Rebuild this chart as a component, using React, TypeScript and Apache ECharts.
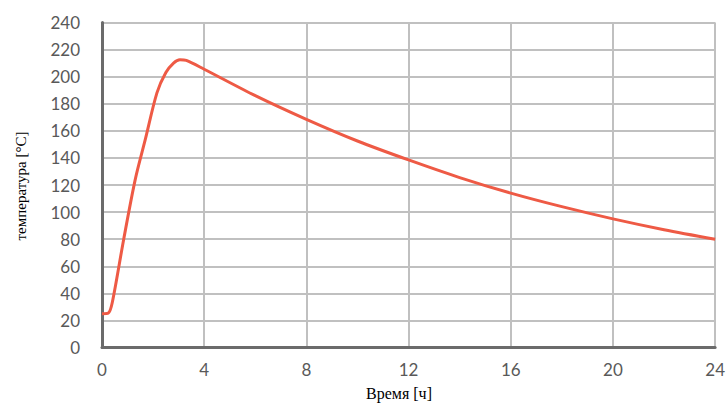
import React, { useEffect, useRef } from "react";
import * as echarts from "echarts";

const timeHours: number[] = [0, 0.25, 0.4, 0.85, 1.3, 1.7, 2.15, 2.5, 2.8, 3.05, 3.3, 4, 6, 8, 10, 12, 14, 16, 18, 20, 22, 24];
const temperature: number[] = [25, 25.5, 33, 80, 124, 154, 188, 203, 210, 212.5, 212, 205.5, 186, 168.5, 152.5, 138.5, 125.5, 114, 104, 95, 87, 80];

const xTitle = "Время [ч]";
const yTitle = "температура [°C]";

export default function App() {
  const ref = useRef<HTMLDivElement>(null);
  useEffect(() => {
    if (!ref.current) return;
    const chart = echarts.init(ref.current, undefined, { renderer: "svg" });
    const data = timeHours.map((t, i) => [t, temperature[i]]);
    chart.setOption({
      animation: false,
      grid: { left: 102, right: 10.5, top: 22.5, bottom: 55.5, containLabel: false },
      xAxis: {
        type: "value",
        min: 0,
        max: 24,
        interval: 4,
        axisLine: { show: true, onZero: false, lineStyle: { color: "#6b6b6b", width: 3 } },
        axisTick: { show: false },
        axisLabel: { color: "#595959", fontFamily: "Lato", fontSize: 17, margin: 13 },
        splitLine: { show: true, lineStyle: { color: "#c0c0c0", width: 2 } },
      },
      yAxis: {
        type: "value",
        min: 0,
        max: 240,
        interval: 20,
        axisLine: { show: true, lineStyle: { color: "#6b6b6b", width: 3 } },
        axisTick: { show: false },
        axisLabel: { color: "#595959", fontFamily: "Lato", fontSize: 17, margin: 22 },
        splitLine: { show: true, lineStyle: { color: "#c0c0c0", width: 2 } },
      },
      series: [
        {
          type: "line",
          data,
          smooth: 0.3,
          symbol: "none",
          lineStyle: { color: "#ee5a45", width: 3 },
          z: 5,
        },
      ],
      graphic: [
        {
          type: "text",
          x: 399,
          y: 393,
          style: {
            text: xTitle,
            font: "16px 'Liberation Serif', serif",
            fill: "#000",
            align: "center",
            verticalAlign: "middle",
          },
        },
        {
          type: "text",
          x: 21,
          y: 186,
          rotation: Math.PI / 2,
          style: {
            text: yTitle,
            font: "15px 'Liberation Serif', serif",
            fill: "#000",
            align: "center",
            verticalAlign: "middle",
          },
        },
      ],
    });
    return () => chart.dispose();
  }, []);
  return (
    <div
      ref={ref}
      style={{ position: "absolute", left: 0, top: 0, width: 728, height: 403 }}
    />
  );
}
